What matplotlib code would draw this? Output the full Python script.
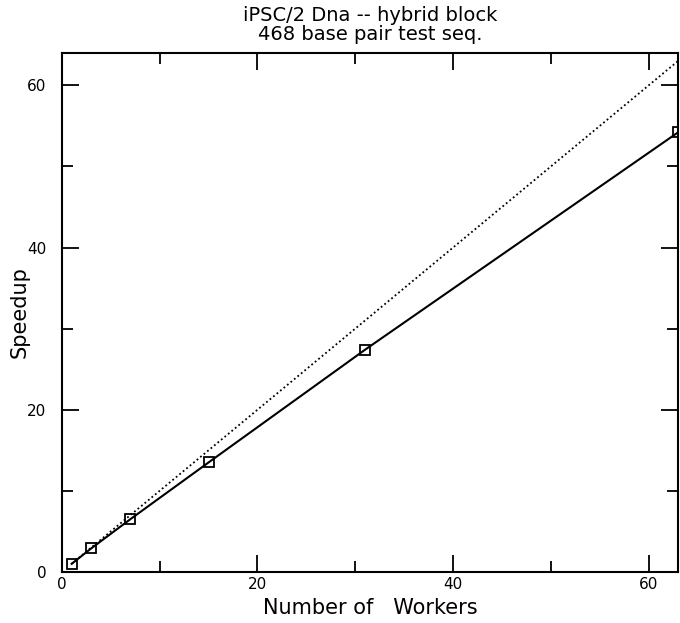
import matplotlib
matplotlib.use("Agg")
from matplotlib import pyplot as plt
from matplotlib.ticker import MultipleLocator

# measured speedup (hybrid block, 468 base pair test seq.)
workers = [1, 3, 7, 15, 31, 63]
speedup = [1.0, 2.9, 6.5, 13.5, 27.4, 54.2]

# ideal speedup line
ideal_x = [1, 63]
ideal_y = [1, 63]

plt.rcParams['font.family'] = ['DejaVu Sans']

fig = plt.figure(figsize=(6.8, 6.23), dpi=100)
ax = fig.add_axes([0.091, 0.082, 0.906, 0.833])

ax.plot(ideal_x, ideal_y, color='black', linestyle=(0, (1, 1.5)), linewidth=1.3)
ax.plot(workers, speedup, color='black', linewidth=1.5,
        marker='s', markersize=7.5, markerfacecolor='none',
        markeredgecolor='black', markeredgewidth=1.3)

ax.set_xlim(0, 63)
ax.set_ylim(0, 64)

ax.xaxis.set_major_locator(MultipleLocator(20))
ax.xaxis.set_minor_locator(MultipleLocator(10))
ax.yaxis.set_major_locator(MultipleLocator(20))
ax.yaxis.set_minor_locator(MultipleLocator(10))

ax.tick_params(which='both', direction='in', top=True, right=True,
               width=1.3, labelsize=11)
ax.tick_params(axis='x', pad=4)
ax.tick_params(axis='y', pad=11)
ax.tick_params(which='major', length=12)
ax.tick_params(which='minor', length=8)

for s in ax.spines.values():
    s.set_linewidth(1.5)

ax.set_xlabel('Number of   Workers', fontsize=15, labelpad=4)
ax.set_ylabel('Speedup', fontsize=15, labelpad=-2)
ax.set_title('iPSC/2 Dna -- hybrid block\n468 base pair test seq.',
             fontsize=14, linespacing=1.0, pad=9)

fig.savefig('out.png', dpi=100)
